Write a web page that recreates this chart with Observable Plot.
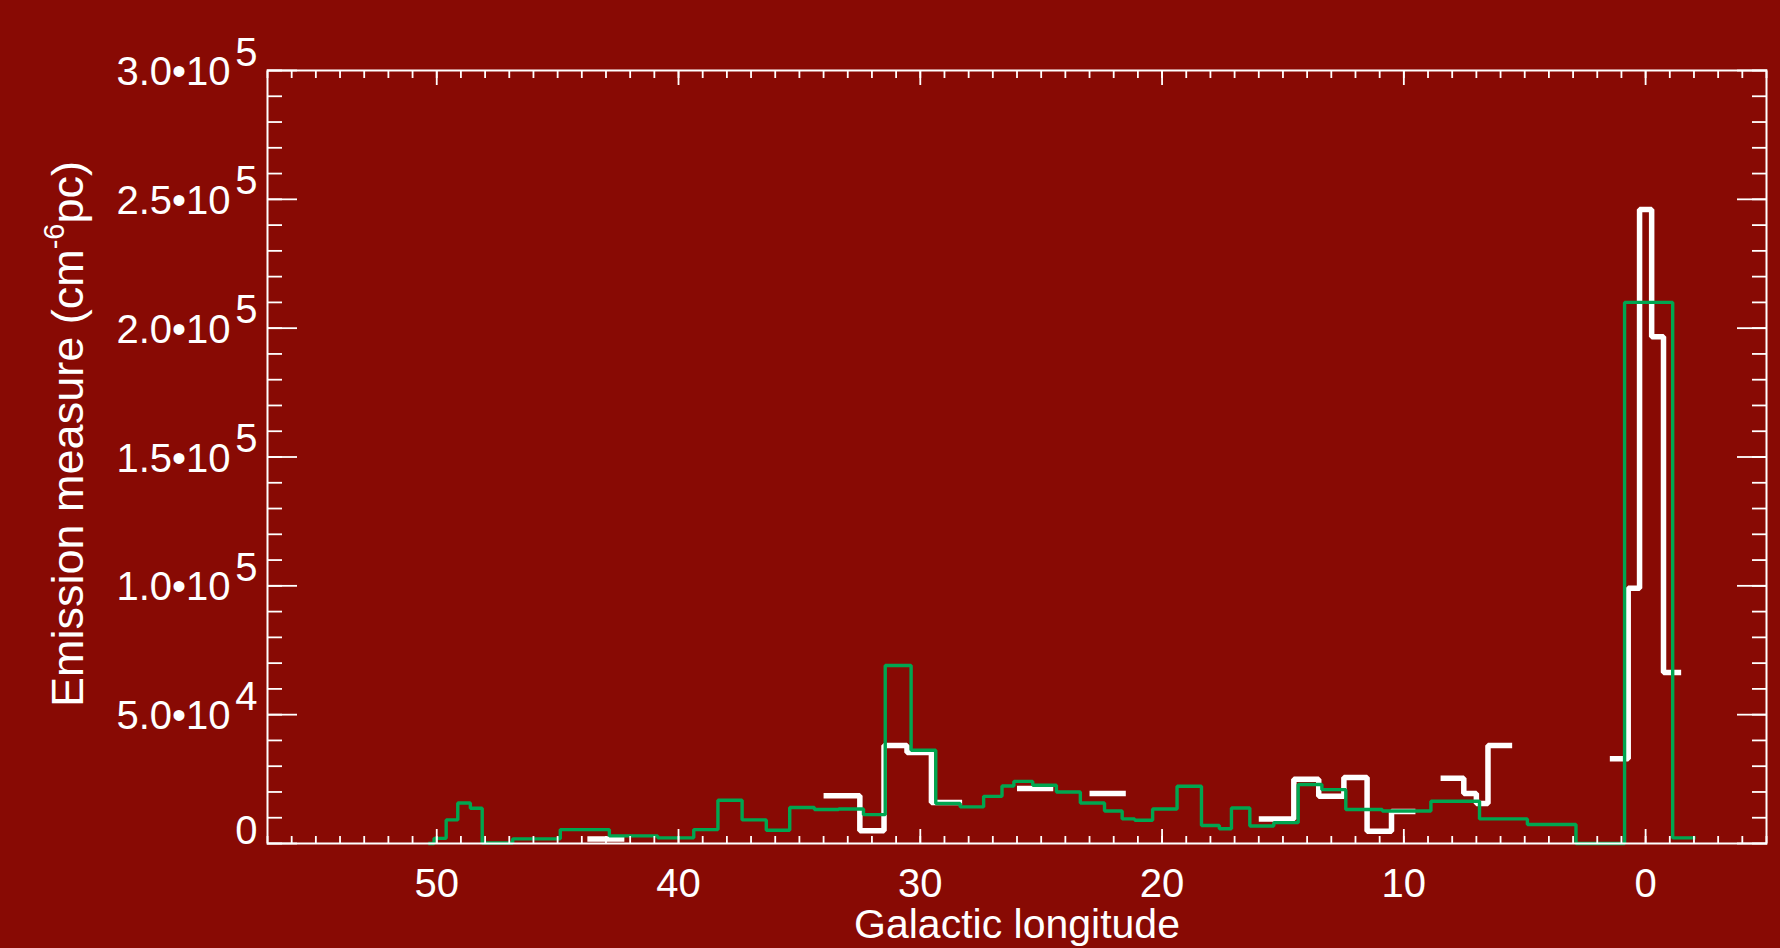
<!DOCTYPE html>
<html><head><meta charset="utf-8">
<script src="https://cdn.jsdelivr.net/npm/d3@7"></script>
<script src="https://cdn.jsdelivr.net/npm/@observablehq/plot@0.6"></script>
<style>html,body{margin:0;padding:0;background:#880a04;overflow:hidden}</style>
</head><body><div id="chart"></div>
<script>
// Green histogram: bin edges (galactic longitude, deg) and emission measure per bin
const greenEdges = [50.35, 50.11, 49.61, 49.13, 48.61, 48.12, 46.86, 44.89, 42.86, 40.86, 39.37, 38.37, 37.37, 36.37, 35.40, 34.38, 33.38, 32.35, 31.45, 30.38, 29.36, 28.35, 27.38, 26.62, 26.13, 25.35, 24.37, 23.38, 22.38, 21.65, 21.13, 20.39, 19.38, 18.37, 17.63, 17.13, 16.37, 15.38, 14.37, 13.39, 12.40, 10.89, 8.88, 6.87, 4.89, 2.88, 0.87, -1.12, -2.07];
const greenValues = [0, 2000, 9150, 15700, 13700, 200, 1800, 5400, 2950, 2200, 5400, 16800, 9150, 5150, 13950, 13200, 13400, 11200, 69100, 36200, 15500, 14200, 18300, 22300, 24100, 22600, 20000, 15700, 12600, 9550, 9000, 13400, 22200, 7000, 5700, 13800, 6800, 8100, 22900, 20900, 13200, 12600, 16400, 9550, 7350, 0, 210000, 2170];
// White histogram: bin edges and values (null = no data)
const whiteEdges = [43.77, 42.24, 34.0, 32.5, 31.5, 30.55, 29.54, 28.27, 26.0, 24.5, 23.0, 21.5, 16.0, 14.55, 13.52, 12.48, 11.52, 10.51, 9.52, 8.48, 7.52, 7.0, 6.52, 5.52, 1.48, 0.72, 0.25, -0.25, -0.74, -1.47];
const whiteValues = [1700, null, 18500, 4900, 38000, 35300, 15900, null, 21300, null, 19400, null, 9550, 24900, 18300, 25600, 4800, 12400, null, 25300, 19400, 15500, 38000, null, 32900, 99100, 246100, 196700, 66400];

const xMajorTicks = [50, 40, 30, 20, 10, 0];
const xMinorTicks = [57,56,55,54,53,52,51,50,49,48,47,46,45,44,43,42,41,40,39,38,37,36,35,34,33,32,31,30,29,28,27,26,25,24,23,22,21,20,19,18,17,16,15,14,13,12,11,10,9,8,7,6,5,4,3,2,1,0,-1,-2,-3,-4,-5];
const yMajorTicks = [0, 50000, 100000, 150000, 200000, 250000, 300000];
const yMinorTicks = [0,10000,20000,30000,40000,50000,60000,70000,80000,90000,100000,110000,120000,130000,140000,150000,160000,170000,180000,190000,200000,210000,220000,230000,240000,250000,260000,270000,280000,290000,300000];
const yTickMantissa = ["5.0•10", "1.0•10", "1.5•10", "2.0•10", "2.5•10", "3.0•10"];
const yTickExponent = ["4", "5", "5", "5", "5", "5"];
const yExpTicks = [50000, 100000, 150000, 200000, 250000, 300000];

function stepPoints(edges, values) {
  const pts = [];
  for (let i = 0; i < values.length; i++) {
    const v = values[i];
    if (v == null) continue;
    pts.push({lon: edges[i], em: v});
    const next = values[i + 1];
    if (next == null) {
      pts.push({lon: edges[i + 1], em: v});
      pts.push({lon: edges[i + 1], em: NaN});
    }
  }
  return pts;
}
const whitePts = stepPoints(whiteEdges, whiteValues);
const greenPts = stepPoints(greenEdges, greenValues);

const W = "#ffffff";
const tickW = 1.8;
const FS = 40;
const FONT = "'Liberation Sans', Arial, Helvetica, sans-serif";

const chart = Plot.plot({
  width: 1780, height: 948,
  marginLeft: 267, marginRight: 14, marginTop: 70, marginBottom: 105,
  x: {domain: [57, -5], axis: null},
  y: {domain: [0, 300000], axis: null},
  style: {background: "#880a04", color: "white", fontFamily: FONT, overflow: "visible"},
  marks: [
    Plot.line(whitePts, {x: "lon", y: "em", curve: "step-after", stroke: W, strokeWidth: 5.5, strokeLinejoin: "miter", strokeLinecap: "butt"}),
    Plot.line(greenPts, {x: "lon", y: "em", curve: "step-after", stroke: "#00a650", strokeWidth: 3.4, strokeLinejoin: "miter", strokeLinecap: "butt"}),
    // ticks (inward)
    Plot.axisX(xMinorTicks, {anchor: "bottom", tickSize: -7, stroke: W, strokeWidth: tickW, fill: "none", label: null}),
    Plot.axisX(xMajorTicks, {anchor: "bottom", tickSize: -14, stroke: W, strokeWidth: tickW, fill: "none", label: null}),
    Plot.axisX(xMinorTicks, {anchor: "top", tickSize: -7, stroke: W, strokeWidth: tickW, fill: "none", label: null}),
    Plot.axisX(xMajorTicks, {anchor: "top", tickSize: -14, stroke: W, strokeWidth: tickW, fill: "none", label: null}),
    Plot.axisY(yMinorTicks, {anchor: "left", tickSize: -15, stroke: W, strokeWidth: tickW, fill: "none", label: null}),
    Plot.axisY(yMajorTicks, {anchor: "left", tickSize: -30, stroke: W, strokeWidth: tickW, fill: "none", label: null}),
    Plot.axisY(yMinorTicks, {anchor: "right", tickSize: -15, stroke: W, strokeWidth: tickW, fill: "none", label: null}),
    Plot.axisY(yMajorTicks, {anchor: "right", tickSize: -30, stroke: W, strokeWidth: tickW, fill: "none", label: null}),
    Plot.frame({stroke: W, strokeWidth: 2}),
    // x tick labels
    Plot.text(xMajorTicks, {x: d => d, frameAnchor: "bottom", dy: 53, lineAnchor: "bottom", text: d => String(d), fill: W, fontSize: FS, textAnchor: "middle"}),
    // y tick labels
    Plot.text(yExpTicks, {y: d => d, frameAnchor: "left", dx: -37, dy: 14.5, lineAnchor: "bottom", textAnchor: "end", text: (d, i) => yTickMantissa[i], fill: W, fontSize: FS}),
    Plot.text(yExpTicks, {y: d => d, frameAnchor: "left", dx: -10, dy: -5, lineAnchor: "bottom", textAnchor: "end", text: (d, i) => yTickExponent[i], fill: W, fontSize: FS}),
    Plot.text([0], {y: d => d, frameAnchor: "left", dx: -10, dy: 0, lineAnchor: "bottom", textAnchor: "end", text: d => "0", fill: W, fontSize: FS}),
    // x axis title
    Plot.text(["Galactic longitude"], {frameAnchor: "bottom", dy: 94.5, lineAnchor: "bottom", textAnchor: "middle", fill: W, fontSize: 41})
  ]
});

// y axis title with superscript
const svg = d3.select(chart);
const t = svg.append("text")
  .attr("transform", "translate(83,434) rotate(-90)")
  .attr("text-anchor", "middle")
  .attr("fill", W)
  .attr("font-size", 45)
  .attr("font-family", FONT);
t.append("tspan").text("Emission measure (cm");
t.append("tspan").attr("dy", -19).attr("font-size", 29).text("-6");
t.append("tspan").attr("dy", 19).text("pc)");

document.getElementById("chart").appendChild(chart);
</script>
</body></html>
